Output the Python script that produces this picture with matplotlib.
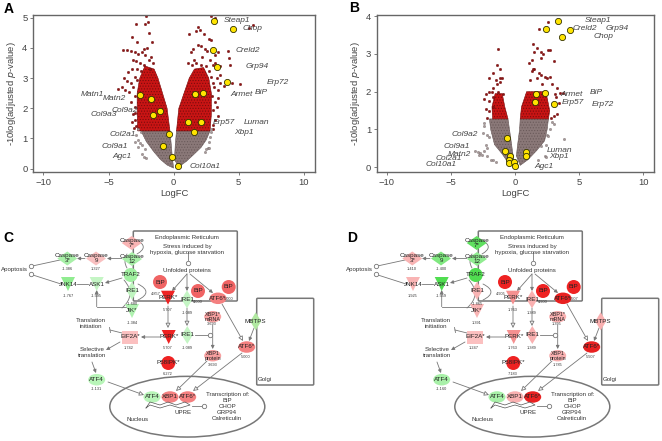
import matplotlib
matplotlib.use('Agg')
import matplotlib.pyplot as plt
from matplotlib.patches import Polygon, Ellipse, Rectangle, FancyBboxPatch, FancyArrowPatch

plt.rcParams['font.family'] = ['Liberation Sans', 'DejaVu Sans']
plt.rcParams['hatch.linewidth'] = 0.5

# panel A, values
a_genes_x = [3.12, 4.6, 2.99, 3.3, 4.09, 1.61, 2.23, -2.56, -1.71, -1.07, -1.56, 1.07, 2.1, 1.53, -0.38, -0.84, -0.13, 0.31]
a_genes_y = [4.89, 4.64, 3.93, 3.36, 2.87, 2.49, 2.51, 2.44, 2.31, 1.91, 1.77, 1.53, 1.55, 1.23, 1.16, 0.75, 0.39, 0.09]
a_red_left = [(-0.28, 1.25), (-0.5, 2.0), (-0.85, 2.5), (-1.2, 3.0), (-1.5, 3.3), (-2.2, 3.4), (-2.6, 3.0), (-2.8, 2.5), (-2.8, 1.8), (-2.75, 1.25)]
a_red_right = [(0.22, 1.25), (0.4, 2.0), (0.8, 2.5), (1.2, 3.0), (1.6, 3.3), (2.3, 3.35), (2.7, 3.0), (2.9, 2.5), (2.9, 1.8), (2.8, 1.25)]
a_grey_left = [(0, 0.02), (-0.5, 0.12), (-1.0, 0.3), (-1.5, 0.55), (-2.1, 0.9), (-2.5, 1.25), (-0.28, 1.25), (-0.18, 0.8), (-0.08, 0.3)]
a_grey_right = [(0.06, 0.3), (0.13, 0.8), (0.22, 1.25), (2.8, 1.25), (2.5, 0.95), (2.1, 0.7), (1.5, 0.45), (1.0, 0.25), (0.4, 0.06)]
a_red_pts = [(-2.1, 5.05), (-2.0, 4.85), (-2.2, 4.78), (-2.9, 4.78), (-3.2, 4.35), (-2.8, 4.2), (-1.9, 4.5), (-1.65, 4.2),
             (-3.9, 3.93), (-3.6, 3.92), (-3.3, 3.9), (-3.0, 3.85), (-2.7, 3.8), (-2.4, 3.85), (-2.2, 3.75), (-3.1, 3.6),
             (-2.9, 3.55), (-2.6, 3.5), (-2.3, 3.45), (-1.9, 3.6), (-1.7, 3.7), (-3.2, 3.3), (-3.5, 3.2), (-2.8, 3.3),
             (-3.8, 3.0), (-3.6, 2.9), (-3.3, 2.85), (-3.0, 3.05), (-4.0, 2.7), (-4.3, 2.65), (-3.7, 2.6), (-3.4, 2.55),
             (-3.1, 2.7), (-3.0, 2.4), (-3.3, 2.2), (-3.0, 2.05), (-3.15, 1.8), (-3.0, 1.6), (-3.2, 1.55), (-2.9, 1.4),
             (-3.05, 1.35), (-2.95, 1.85), (-2.85, 2.95), (-2.5, 3.25), (-2.3, 3.95), (-2.05, 4.0), (-1.85, 3.3), (-1.55, 3.5),
             (2.9, 5.05), (3.2, 5.0), (1.9, 4.7), (1.7, 4.55), (2.0, 4.6), (1.2, 4.45), (2.3, 4.45), (2.7, 4.3), (2.9, 4.25),
             (1.9, 4.1), (2.1, 4.05), (1.5, 3.95), (2.4, 3.95), (2.6, 3.9), (1.3, 3.85), (3.4, 3.85), (4.2, 3.9), (3.2, 3.75),
             (4.25, 3.65), (2.2, 3.7), (2.8, 3.6), (1.6, 3.6), (1.1, 3.5), (1.4, 3.45), (3.0, 3.45), (3.6, 3.4), (2.5, 3.4),
             (3.2, 3.5), (4.3, 3.45), (2.1, 3.45), (2.75, 3.25), (3.6, 3.1), (3.3, 3.0), (1.7, 3.5), (2.9, 3.05), (3.0, 2.85),
             (3.1, 2.7), (3.4, 2.6), (3.6, 2.85), (3.9, 2.75), (4.5, 2.85), (5.1, 2.8), (3.4, 2.35), (3.2, 2.2), (3.3, 2.05),
             (3.0, 1.95), (3.4, 1.75), (3.2, 1.6), (3.0, 1.45), (3.05, 1.3), (2.95, 2.4), (6.1, 4.75), (5.8, 4.65)]
a_grey_pts = [(-2.5, 1.2), (-2.9, 1.1), (-2.7, 0.95), (-2.6, 0.85), (-2.95, 0.88), (-2.4, 0.78), (-2.75, 0.72), (-2.2, 0.65),
              (-2.4, 0.5), (-2.25, 0.4), (-2.1, 0.35), (-2.7, 1.3), (2.9, 1.2), (2.8, 1.05), (2.7, 0.9), (2.65, 0.68),
              (2.75, 0.7), (2.5, 0.65), (2.4, 0.55), (2.9, 1.3)]

# panel B
b_genes_x = [3.35, 2.44, 4.31, 3.69, 1.64, 2.34, 1.58, 3.01, -0.65, -0.78, -0.39, -0.47, -0.49, -0.1, 0.0, 0.86, 0.86]
b_genes_y = [3.86, 3.67, 3.63, 3.44, 1.93, 1.96, 1.74, 1.67, 0.78, 0.42, 0.30, 0.18, 0.11, 0.15, 0.04, 0.41, 0.30]
b_red_left = [(-1.75, 1.28), (-1.8, 1.6), (-1.55, 1.95), (-1.0, 1.95), (-0.8, 1.6), (-0.55, 1.28)]
b_red_right = [(0.4, 1.28), (0.5, 1.6), (0.9, 2.0), (2.4, 2.0), (2.7, 1.5), (2.6, 1.28)]
b_grey_left = [(0, 0.02), (-0.5, 0.1), (-1.0, 0.35), (-1.6, 0.6), (-1.9, 1.0), (-2.0, 1.28), (-0.55, 1.28), (-0.35, 0.8), (-0.15, 0.3)]
b_grey_right = [(0.1, 0.3), (0.2, 0.6), (0.35, 1.0), (0.4, 1.28), (2.6, 1.28), (2.5, 1.0), (2.3, 0.7), (1.7, 0.45), (1.0, 0.2), (0.4, 0.05)]
b_red_pts = [(-1.35, 3.14), (-1.4, 2.7), (-1.15, 2.6), (-1.7, 2.5), (-1.0, 2.35), (-2.05, 2.35), (-1.2, 2.35), (-1.5, 2.3),
             (-1.15, 2.25), (-1.4, 2.2), (-2.05, 2.0), (-1.8, 2.0), (-1.7, 2.1), (-2.3, 1.95), (-1.3, 2.0), (-0.95, 1.95),
             (-2.4, 1.8), (-2.0, 1.75), (-1.7, 1.85), (-2.3, 1.55), (-2.0, 1.5), (-1.7, 1.6), (-2.2, 1.3),
             (1.9, 3.65), (2.6, 3.85), (1.4, 3.25), (1.7, 3.15), (2.0, 3.05), (1.5, 3.05), (1.3, 2.85), (2.0, 2.9), (2.6, 3.1),
             (2.7, 3.1), (2.2, 3.0), (1.1, 2.75), (3.0, 2.8), (1.5, 2.6), (1.3, 2.55), (1.4, 2.6), (1.9, 2.5), (2.0, 2.45),
             (2.7, 2.4), (2.5, 2.35), (2.3, 2.4), (1.2, 2.3), (1.7, 2.35), (2.1, 2.2), (2.9, 2.2), (3.3, 2.1), (3.5, 1.97),
             (3.7, 1.97), (3.1, 1.95), (3.2, 1.85), (3.4, 1.7), (3.3, 1.4), (3.0, 1.35), (2.8, 1.3)]
b_grey_pts = [(-2.45, 1.18), (-2.4, 1.1), (-2.5, 0.9), (-2.2, 0.85), (-2.0, 0.8), (-2.3, 0.6), (-2.15, 0.5), (-2.4, 0.42),
              (-2.9, 0.4), (-3.1, 0.42), (-2.8, 0.33), (-2.7, 0.38), (-2.6, 0.33), (-2.2, 0.3), (-1.9, 0.2), (-1.7, 0.18),
              (-1.5, 0.15), (3.05, 1.15), (2.9, 1.2), (2.7, 1.0), (2.5, 0.85), (2.6, 0.83), (3.85, 0.75), (2.4, 0.6),
              (2.0, 0.55), (2.35, 0.3), (2.4, 0.27), (1.8, 0.2)]

x_ticks = [-10, -5, 0, 5, 10]
a_y_ticks = [0, 1, 2, 3, 4, 5]
b_y_ticks = [0, 1, 2, 3, 4]

# gene labels, in figure pixels
a_labels = [('Steap1', 237, 21), ('Chop', 252, 29), ('Creld2', 248, 50), ('Grp94', 257, 67), ('Erp72', 278, 82), ('Armet', 242, 94),
            ('BiP', 261, 93), ('Matn1', 92, 95), ('Matn2', 114, 99), ('Col9a2', 125, 111), ('Col9a3', 104, 115), ('Erp57', 224, 122),
            ('Luman', 256, 122), ('Xbp1', 244, 132), ('Col2a1', 123, 134), ('Col9a1', 115, 146), ('Agc1', 122, 157), ('Col10a1', 205, 166)]
b_labels = [('Steap1', 598, 21), ('Creld2', 585, 29), ('Grp94', 617, 29), ('Chop', 603, 37), ('Armet', 572, 95), ('BiP', 596, 93),
            ('Erp57', 573, 102), ('Erp72', 603, 105), ('Col9a2', 465, 134), ('Col9a1', 457, 147), ('Matn2', 459, 154), ('Col2a1', 449, 159),
            ('Col10a1', 441, 165), ('Luman', 559, 150), ('Xbp1', 559, 156), ('Agc1', 544, 166)]

# pathway nodes, shared by C and D
node_names = ['Caspase\n7*', 'Caspase\n12', 'Caspase\n9', 'Caspase\n3*', 'TRAF2', 'IRE1', 'JNK14', 'ASK1', 'JIK*', 'BiP', 'PERK*', 'IRE1',
              'BiP', 'BiP', 'ATF6*', 'XBP1*\nmRNA', 'MBTPS', 'PERK*', 'IRE1', 'EIF2A*', 'P58IPK*', 'XBP1\nprotein', 'ATF6*', 'ATF4',
              'ATF4', 'XBP1', 'ATF6*']
c_colors = ['#f9b4b4', '#a8f0a8', '#f9c0c0', '#a8f0a8', '#a0f0a0', '#c0f5c0', '#90ec90', '#c4f5c4', '#b0f2b0', '#f06464', '#ee2222', '#c4f5c4',
            '#f06464', '#f06464', '#f48080', '#f8a0a0', '#b0e8a0', '#ee2222', '#c4f5c4', '#fbc0c0', '#ee2222', '#f8a0a0', '#f48080', '#b8f5b8',
            '#b8f5b8', '#f48080', '#f48080']
d_colors = ['#60e060', '#90ec90', '#80e880', '#f9b4b4', '#50dd50', '#f9b4b4', '#f9b4b4', '#50dd50', '#f9b4b4', '#ee2222', '#f59090', '#f9b0b0',
            '#ee2222', '#ee2222', '#e82020', '#f9b0b0', '#f9b0b0', '#f59090', '#f9b0b0', '#fbc0c0', '#ee2222', '#f9b0b0', '#e82020', '#a8f0a8',
            '#a8f0a8', '#f9b0b0', '#e82020']
c_values = ['', '', '1.327', '-1.386', '-1.680', '', '-1.767', '-1.595', '-1.384', '4.857', '5.707', '-1.089', '4.000', '', '5.000', '3.693',
            '', '5.707', '-1.089', '1.742', '6.272', '3.693', '5.000', '-1.131', '', '', '']
d_values = ['', '', '-1.400', '1.410', '-1.865', '', '1.925', '-1.559', '1.391', '4.905', '1.763', '1.389', '4.900', '', '5.507', '1.395',
            '', '1.763', '1.389', '1.247', '7.183', '1.785', '5.507', '-1.160', '', '', '']

# layout of the pathway in panel C, pixels
node_xy = [(131.7, 243), (132, 259), (96, 258.5), (67.3, 258.5), (130.7, 275), (132, 290.7), (68, 284), (96.7, 284), (132, 311), (160, 282),
           (168, 297.7), (187, 299.3), (198, 291), (228.7, 287), (218, 298.3), (212.7, 316.7), (255.7, 321.3), (168.7, 337), (187.3, 335),
           (130, 337), (168.3, 363), (212.7, 355.7), (246.7, 347), (96.7, 379.7), (152, 397), (170, 397), (187.7, 397)]
node_shape = ['wide', 'wide', 'wide', 'wide', 'circle', 'tall', 'tri', 'tri', 'tri', 'circle', 'tri', 'tall', 'circle', 'circle', 'ell', 'ell',
              'tall', 'tri', 'tall', 'rect', 'circle', 'ell', 'ell', 'ell', 'ell', 'ell', 'ell']
value_xy = [None, None, (96, 269), (67, 269), (132, 304), None, (68, 296), (96.7, 296), (132, 323), (155.7, 294), (168, 309.7), (187, 313),
            (198, 302), None, (229, 299), (212, 324), None, (168, 348), (187, 348), (129, 348), (168, 374.3), (212.7, 365), (246, 357),
            (96.7, 389.3), None, None, None]

plain_lines = [((31, 266.3), (60, 260)), ((30.7, 274.3), (61, 284)), ((88, 284), (77, 284)), ((187.5, 252), (187.5, 260)),
               ((195, 335), (208, 335)), ((192, 405.7), (202, 405.7))]
filled_arrows = [((122, 278), (105, 283)), ((85, 258.5), (77, 258.5)), ((122, 258.5), (107, 258.5)), ((187, 274), (172, 291)),
                 ((187, 274), (187, 291)), ((190, 274), (213, 293)), ((160, 337), (141, 337)), ((212.7, 325), (212.7, 349)),
                 ((254, 328), (249, 341)), ((120, 342), (106, 350)), ((92, 362), (96, 373)), ((96.7, 306.7), (96.7, 290))]
open_arrows = [((168, 306), (168, 328)), ((187, 308), (187, 326)), ((222, 304), (243, 341)), ((207, 361), (176, 391)),
               ((242, 353), (193, 391)), ((108, 382), (144, 395))]
loop_arcs = [((122, 308), (124, 280), 0.5), ((138, 284), (138, 300), -1.0), ((137, 240), (137, 254), -0.9), ((127, 254), (127, 268), 0.3)]
open_circles = [(31, 266.3), (30.7, 274.3), (187.7, 262.7), (210, 335), (204.3, 405.7)]
promoter = [(146, 408), (150, 402), (160, 405), (168, 402), (176, 405), (185, 402), (190, 405), (180, 408), (170, 405), (160, 408), (150, 405), (146, 408)]
pathway_text = [('Apoptosis', 14.7, 269), ('Endoplasmic Reticulum', 187.3, 237.3), ('Stress induced by\nhypoxia, glucose starvation', 187.3, 249.7),
                ('Unfolded proteins', 187.3, 270.3), ('Translation\ninitiation', 91, 323.3), ('Selective\ntranslation', 92, 352.7),
                ('UPRE', 183, 412.3), ('Transcription of:\nBiP\nCHOP\nGRP94\nCalreticulin', 227.3, 406.7), ('Nucleus', 137.7, 419.3),
                ('Golgi', 265.3, 379.7)]

AX_COLOR = '#666666'
TXT_COLOR = '#444444'
LINE_COLOR = '#777777'

fig = plt.figure(figsize=(6.62, 4.41), dpi=100)


def px_axes(left, top, right, bottom):
    return fig.add_axes([left / 662, 1 - bottom / 441, (right - left) / 662, (bottom - top) / 441])


def plotVolcano(box, xlim, ylim, yticks, red_polys, grey_polys, red_pts, grey_pts, genes_x, genes_y):
    ax = px_axes(*box)
    for poly in grey_polys:
        ax.add_patch(Polygon(poly, closed=True, facecolor='#8a7878', edgecolor='#6a5a5a', hatch='......', lw=0.4))
    for poly in red_polys:
        ax.add_patch(Polygon(poly, closed=True, facecolor='#c81414', edgecolor='#7a0c0c', hatch='......', lw=0.4))
    ax.scatter(*zip(*red_pts), s=3.5, c='#8f1414', edgecolors='#5a0808', linewidths=0.2, clip_on=True)
    ax.scatter(*zip(*grey_pts), s=3.0, c='#a89a9a', edgecolors='#554a4a', linewidths=0.2)
    ax.scatter(genes_x, genes_y, s=20, c='#ffe400', edgecolors='#333300', linewidths=0.6, zorder=5)
    ax.set_xlim(*xlim)
    ax.set_ylim(*ylim)
    ax.set_xticks(x_ticks)
    ax.set_yticks(yticks)
    ax.tick_params(labelsize=6.8, length=2, width=0.6, color=AX_COLOR, labelcolor=TXT_COLOR, pad=2)
    ax.set_xlabel('LogFC', fontsize=6.8, color=TXT_COLOR, labelpad=2)
    ax.set_ylabel('-10log(adjusted $\\mathit{p}$-value)', fontsize=6.8, color=TXT_COLOR, labelpad=3)
    for side in ax.spines.values():
        side.set_color(AX_COLOR)
        side.set_linewidth(1.0)
    return ax


plotVolcano((33, 15, 315, 172), (-10.8, 10.86), (-0.11, 5.09), a_y_ticks, [a_red_left, a_red_right], [a_grey_left, a_grey_right],
            a_red_pts, a_grey_pts, a_genes_x, a_genes_y)
plotVolcano((376.7, 15, 653.7, 172), (-10.78, 10.8), (-0.125, 4.03), b_y_ticks, [b_red_left, b_red_right], [b_grey_left, b_grey_right],
            b_red_pts, b_grey_pts, b_genes_x, b_genes_y)

over = fig.add_axes([0, 0, 1, 1], zorder=10)
over.set_xlim(0, 662)
over.set_ylim(441, 0)
over.axis('off')

for label, x, y in a_labels + b_labels:
    over.text(x, y, label, fontsize=6.0, style='italic', color=TXT_COLOR, ha='center', va='center')

for label, x, y in [('A', 9, 9), ('B', 354, 8), ('C', 8, 238), ('D', 352, 238)]:
    over.text(x, y, label, fontsize=10, fontweight='bold', color='black', ha='center', va='center')


def drawNode(x, y, shape, color):
    style = dict(facecolor=color, edgecolor='none', zorder=3)
    if shape == 'circle':
        over.add_patch(Ellipse((x, y), 14, 14, **style))
    elif shape == 'ell':
        over.add_patch(Ellipse((x, y), 17, 11.5, **style))
    elif shape == 'rect':
        over.add_patch(Rectangle((x - 8, y - 6.5), 16, 13, **style))
    elif shape == 'tri':
        over.add_patch(Polygon([(x - 7, y - 7), (x + 7, y - 7), (x, y + 7)], **style))
    elif shape == 'tall':
        over.add_patch(Polygon([(x, y - 9), (x + 5.5, y), (x, y + 9), (x - 5.5, y)], **style))
    else:
        over.add_patch(Polygon([(x, y - 7), (x + 10, y), (x, y + 7), (x - 10, y)], **style))


def plotPathway(dx, colors, values):
    over.add_patch(FancyBboxPatch((133.3 + dx, 231), 104, 70, boxstyle='round,pad=0,rounding_size=1', fill=False, ec=LINE_COLOR, lw=1.1, zorder=1))
    over.add_patch(FancyBboxPatch((256.7 + dx, 298.3), 57, 86.7, boxstyle='round,pad=0,rounding_size=1', fill=False, ec=LINE_COLOR, lw=1.1, zorder=1))
    over.add_patch(Ellipse((187.3 + dx, 406.7), 155, 60.7, fill=False, ec=LINE_COLOR, lw=1.1, zorder=1))
    for p0, p1 in plain_lines:
        over.plot([p0[0] + dx, p1[0] + dx], [p0[1], p1[1]], color=LINE_COLOR, lw=0.6, zorder=2)
    # JIK to ASK1 elbow and the T bar on EIF2A
    over.plot([128 + dx, 96.7 + dx], [306.7, 306.7], color=LINE_COLOR, lw=0.6, zorder=2)
    over.plot([122 + dx, 110 + dx], [333, 330], color=LINE_COLOR, lw=0.6, zorder=2)
    over.plot([109.5 + dx, 110.5 + dx], [327.5, 332.5], color=LINE_COLOR, lw=0.6, zorder=2)
    for p0, p1 in filled_arrows:
        over.add_patch(FancyArrowPatch((p0[0] + dx, p0[1]), (p1[0] + dx, p1[1]), arrowstyle='-|>', mutation_scale=5,
                                       color=LINE_COLOR, lw=0.6, shrinkA=0, shrinkB=0, zorder=2))
    for p0, p1 in open_arrows:
        over.add_patch(FancyArrowPatch((p0[0] + dx, p0[1]), (p1[0] + dx, p1[1]), arrowstyle='-|>', mutation_scale=7,
                                       fc='white', ec=LINE_COLOR, lw=0.6, shrinkA=0, shrinkB=0, zorder=2))
    for p0, p1, rad in loop_arcs:
        over.add_patch(FancyArrowPatch((p0[0] + dx, p0[1]), (p1[0] + dx, p1[1]), arrowstyle='-', connectionstyle='arc3,rad=%s' % rad,
                                       color=LINE_COLOR, lw=0.6, shrinkA=0, shrinkB=0, zorder=2))
    over.plot([p[0] + dx for p in promoter], [p[1] for p in promoter], color='#555555', lw=0.5, zorder=4)
    over.scatter([p[0] + dx for p in open_circles], [p[1] for p in open_circles], s=10, c='white', edgecolors=LINE_COLOR, linewidths=0.6, zorder=4)
    for i, name in enumerate(node_names):
        x, y = node_xy[i]
        drawNode(x + dx, y, node_shape[i], colors[i])
        size = 3.9 if '\n' in name and 'Caspase' not in name else 4.5
        over.text(x + dx, y, name, fontsize=size, color='#222222', ha='center', va='center', linespacing=1.0, zorder=6)
        if value_xy[i] and values[i]:
            over.text(value_xy[i][0] + dx, value_xy[i][1], values[i], fontsize=2.8, color='#333333', ha='center', va='center', zorder=6)
    for label, x, y in pathway_text:
        over.text(x + dx, y, label, fontsize=4.4, color='#333333', ha='center', va='center', linespacing=1.25, zorder=6)


plotPathway(0, c_colors, c_values)
plotPathway(345, d_colors, d_values)

fig.savefig('out.png', dpi=100)
